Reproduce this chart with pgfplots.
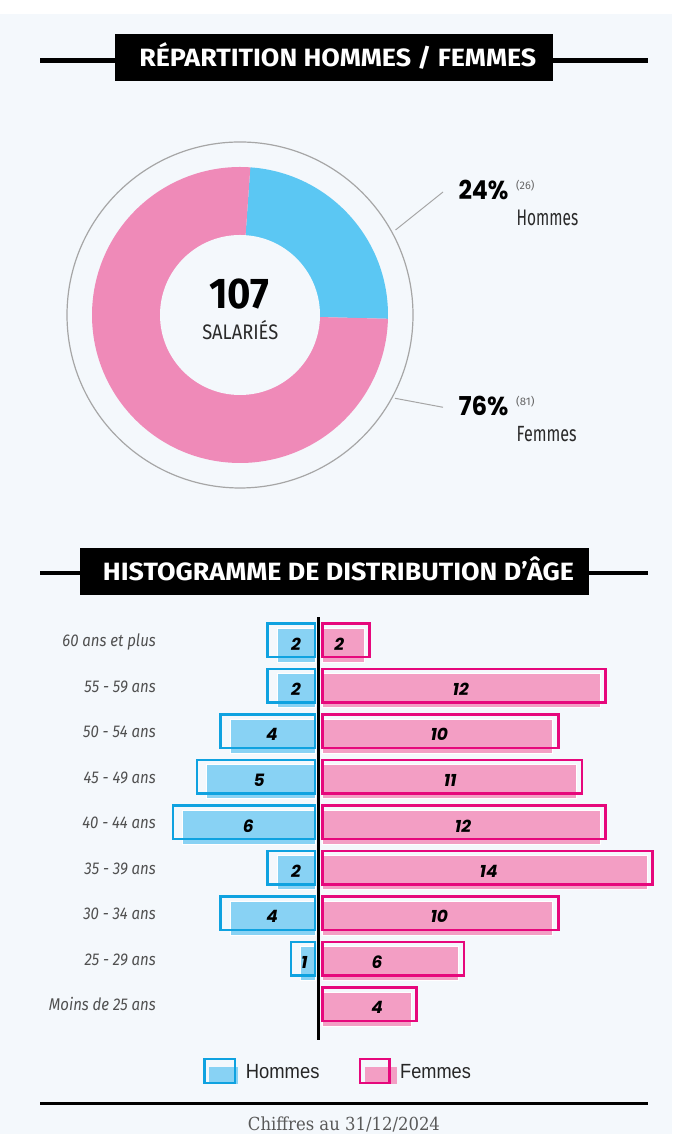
\documentclass[border=0pt]{standalone}
\usepackage{pgfplots}
\pgfplotsset{compat=1.18}
\usepackage{pgfplotstable}
\usepackage{graphicx}
\usepackage{fontspec}
\setmainfont{Fira Sans}
\newfontfamily\fira{Fira Sans}
\newfontfamily\firacond[FakeStretch=0.88]{Fira Sans}
\newfontfamily\pop{Poppins}
\newfontfamily\lib{Liberation Sans}
\newfontfamily\slab{DejaVu Serif}
\definecolor{bg}{HTML}{F4F8FC}
\definecolor{dblue}{HTML}{5BC7F3}
\definecolor{dpink}{HTML}{EF8AB8}
\definecolor{bfill}{HTML}{88D2F4}
\definecolor{bline}{HTML}{0FA2E0}
\definecolor{pfill}{HTML}{F39EC4}
\definecolor{pline}{HTML}{E6087C}
\definecolor{ring}{HTML}{A6A6A6}
\definecolor{labgray}{HTML}{505050}
\definecolor{dark}{HTML}{2A2A2A}
\newcommand\numfont{\pop\bfseries\itshape\fontsize{17}{18}\selectfont}

% donut data
\pgfplotstableread{
group n
Hommes 26
Femmes 81
}\donutdata
% age pyramid data
\pgfplotstableread{
row h f fl hl
0 2 2 0.72 -0.80
1 2 12 5.87 -0.80
2 4 10 4.96 -1.82
3 5 11 5.42 -2.36
4 6 12 5.96 -2.82
5 2 14 7.05 -0.80
6 4 10 4.96 -1.81
7 1 6 2.32 -0.44
8 0 4 2.32 0
}\agedata

\begin{document}
\begin{tikzpicture}
\useasboundingbox (0pt,0pt) rectangle (672pt,1134pt);
\fill[white] (0pt,0pt) rectangle (672pt,1134pt);
\fill[bg] (0pt,0pt) rectangle (672pt,1120pt);

% ---- Title 1
\draw[black, line width=4.5pt] (40pt,1073.5pt) -- (648pt,1073.5pt);
\fill[black] (115pt,1053pt) rectangle (553pt,1100pt);
\node[anchor=base, inner sep=0pt, text=white] at (337.8pt,1067.3pt)
  {\resizebox{397pt}{\height}{\fira\bfseries\fontsize{25}{30}\selectfont RÉPARTITION HOMMES / FEMMES}};

% ---- Donut
\pgfplotstablegetelem{0}{n}\of\donutdata \edef\nh{\pgfplotsretval}
\pgfplotstablegetelem{1}{n}\of\donutdata \edef\nf{\pgfplotsretval}
\pgfmathsetmacro\hang{\nh/(\nh+\nf)*360}
\pgfmathsetmacro\midang{86-\hang}
\draw[ring, line width=1.2pt] (240pt,819pt) circle[radius=173pt];
\fill[dblue] (240pt,819pt) -- ++(86:148pt) arc[start angle=86, end angle=\midang, radius=148pt] -- cycle;
\fill[dpink] (240pt,819pt) -- ++(\midang:148pt) arc[start angle=\midang, end angle=-274, radius=148pt] -- cycle;
\fill[bg] (240pt,819pt) circle[radius=80pt];
\node[anchor=base, inner sep=0pt] at (239.2pt,825pt)
  {\resizebox{60pt}{\height}{\fira\bfseries\fontsize{43}{46}\selectfont 107}};
\node[anchor=base, inner sep=0pt, text=dark] at (240.3pt,794.7pt)
  {\resizebox{76pt}{\height}{\fira\fontsize{21}{24}\selectfont SALARIÉS}};

% leaders and labels
\draw[ring, line width=1pt] (395.5pt,904pt) -- (443pt,942pt);
\draw[ring, line width=1pt] (395pt,735.7pt) -- (443pt,726.7pt);
\node[anchor=base west, inner sep=0pt] at (458.3pt,934pt)
  {\resizebox{50pt}{\height}{\pop\bfseries\fontsize{26}{28}\selectfont 24\%}};
\node[anchor=base west, inner sep=0pt, text=black!60] at (516pt,944pt)
  {\resizebox{18.3pt}{\height}{\fira\fontsize{11}{12}\selectfont (26)}};
\node[anchor=base west, inner sep=0pt, text=dark] at (516.5pt,908.3pt)
  {\resizebox{61.6pt}{\height}{\fira\fontsize{22.5}{24}\selectfont Hommes}};
\node[anchor=base west, inner sep=0pt] at (458.3pt,718.3pt)
  {\resizebox{50pt}{\height}{\pop\bfseries\fontsize{26}{28}\selectfont 76\%}};
\node[anchor=base west, inner sep=0pt, text=black!60] at (516pt,728pt)
  {\resizebox{18.3pt}{\height}{\fira\fontsize{11}{12}\selectfont (81)}};
\node[anchor=base west, inner sep=0pt, text=dark] at (516.5pt,692.3pt)
  {\resizebox{60pt}{\height}{\fira\fontsize{22}{24}\selectfont Femmes}};

% ---- Title 2
\draw[black, line width=4.5pt] (40pt,561pt) -- (648pt,561pt);
\fill[black] (80pt,539pt) rectangle (589pt,586pt);
\node[anchor=base, inner sep=0pt, text=white] at (338.5pt,553.3pt)
  {\resizebox{471pt}{\height}{\fira\bfseries\fontsize{25}{30}\selectfont HISTOGRAMME DE DISTRIBUTION D’ÂGE}};

% ---- Pyramid
\begin{axis}[
  at={(156pt,107.25pt)}, anchor=south west,
  scale only axis, width=516.5pt, height=409.5pt,
  xmin=-6.886, xmax=15, ymin=-0.5, ymax=8.5, y dir=reverse,
  clip=false,
  axis line style={draw=none}, tick style={draw=none},
  major tick length=0pt,
  xtick=\empty,
  ytick={0,1,2,3,4,5,6,7,8},
  yticklabels={60 ans et plus,55 - 59 ans,50 - 54 ans,45 - 49 ans,40 - 44 ans,35 - 39 ans,30 - 34 ans,25 - 29 ans,Moins de 25 ans},
  yticklabel style={font=\firacond\itshape\fontsize{17}{18}\selectfont, text=labgray, anchor=base east, inner sep=0pt, yshift=-6.5pt},
]
% fills
\addplot[xbar, bar shift=0pt, bar width=34pt, fill=pfill, draw=white, line width=0.8pt, xshift=3.5pt, yshift=-5pt]
  table[x expr=\thisrow{f}-0.22, y=row]{\agedata};
\addplot[xbar, bar shift=0pt, bar width=34pt, fill=bfill, draw=white, line width=0.8pt, xshift=-3.5pt, yshift=-5pt, skip coords between index={8}{9}]
  table[x expr=-\thisrow{h}+0.4, y=row]{\agedata};
% outlines
\addplot[xbar, bar shift=0pt, bar width=33.5pt, fill=none, draw=pline, line width=2.5pt, xshift=3.75pt]
  table[x=f, y=row]{\agedata};
\addplot[xbar, bar shift=0pt, bar width=33.5pt, fill=none, draw=bline, line width=2.5pt, xshift=-3.75pt, skip coords between index={8}{9}]
  table[x expr=-\thisrow{h}, y=row]{\agedata};
% value labels
\addplot[draw=none, point meta=explicit symbolic, nodes near coords={\numfont\pgfplotspointmeta},
  every node near coord/.append style={anchor=center, yshift=-3.8pt, xshift=3.75pt, text=black}]
  table[x=fl, y=row, meta=f]{\agedata};
\addplot[draw=none, point meta=explicit symbolic, nodes near coords={\numfont\pgfplotspointmeta},
  every node near coord/.append style={anchor=center, yshift=-3.8pt, xshift=-3.75pt, text=black},
  skip coords between index={8}{9}]
  table[x=hl, y=row, meta=h]{\agedata};
\draw[black, line width=2.5pt] (axis cs:0,-0.5) -- (axis cs:0,8.79);
\end{axis}

% ---- Legend
\fill[bfill] (209pt,49.7pt) rectangle (238pt,67pt);
\draw[bline, line width=2.5pt] (204.5pt,51pt) rectangle (235pt,74.8pt);
\node[anchor=base west, inner sep=0pt, text=black!85] at (245.7pt,55pt)
  {\resizebox{73.6pt}{\height}{\lib\fontsize{20.5}{22}\selectfont Hommes}};
\fill[pfill] (365pt,49.7pt) rectangle (397pt,67pt);
\draw[pline, line width=2.5pt] (360.2pt,51pt) rectangle (389.5pt,74.8pt);
\node[anchor=base west, inner sep=0pt, text=black!85] at (400pt,55pt)
  {\resizebox{70.7pt}{\height}{\lib\fontsize{20.5}{22}\selectfont Femmes}};

% ---- Footer
\draw[black, line width=3pt] (40pt,30pt) -- (648pt,30pt);
\node[anchor=base, inner sep=0pt, text=black!65] at (344pt,4pt)
  {\resizebox{192pt}{\height}{\slab\fontsize{18}{20}\selectfont Chiffres au 31/12/2024}};
\end{tikzpicture}
\end{document}
